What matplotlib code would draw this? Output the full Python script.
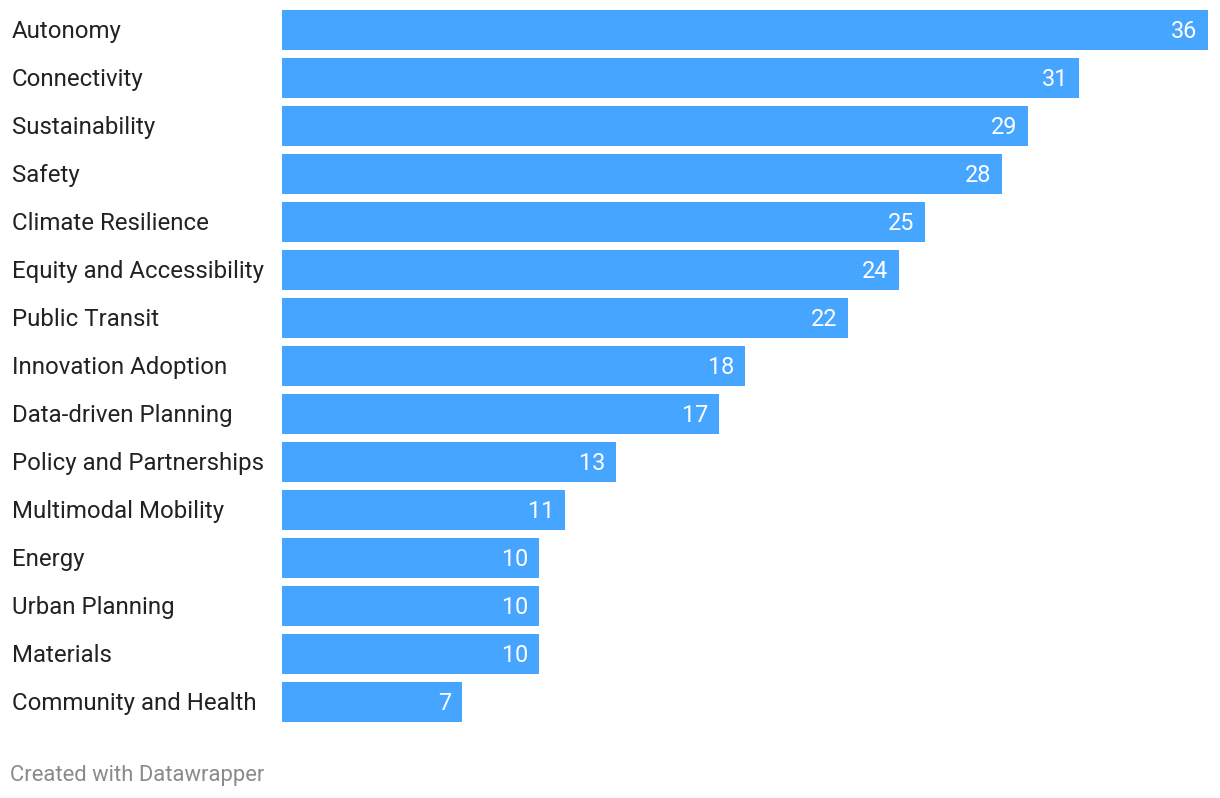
import matplotlib
matplotlib.use("Agg")
import matplotlib.pyplot as plt

# Topics and counts
topics = ["Autonomy", "Connectivity", "Sustainability", "Safety",
          "Climate Resilience", "Equity and Accessibility", "Public Transit",
          "Innovation Adoption", "Data-driven Planning", "Policy and Partnerships",
          "Multimodal Mobility", "Energy", "Urban Planning", "Materials",
          "Community and Health"]
counts = [36, 31, 29, 28, 25, 24, 22, 18, 17, 13, 11, 10, 10, 10, 7]

bar_color = "#46a5ff"
plt.rcParams['font.family'] = ['Roboto', 'DejaVu Sans']

W, H = 1220, 798
fig = plt.figure(figsize=(W / 100, H / 100), dpi=100)
# axes from x=282 to 1208 px, y from 6 to 726 px
ax = fig.add_axes([282 / W, 1 - 726 / H, (1208 - 282) / W, 720 / H])

pos = list(range(len(topics)))
ax.barh(pos, counts, height=40 / 48, color=bar_color)
ax.set_xlim(0, max(counts))
ax.set_ylim(len(topics) - 0.5, -0.5)
ax.axis("off")

for p, name, c in zip(pos, topics, counts):
    ax.annotate(name, xy=(0, p), xycoords="data", xytext=(-270, 1),
                textcoords="offset pixels", ha="left", va="center_baseline",
                fontsize=17.3, color="#222222")
    ax.annotate(str(c), xy=(c, p), xycoords="data", xytext=(-11, 1.5),
                textcoords="offset pixels", ha="right", va="center_baseline",
                fontsize=16.8, color="white")

fig.text(10 / W, 1 - 775 / H, "Created with Datawrapper", ha="left", va="center",
         fontsize=15.8, color="#8a8a8a")

fig.savefig("out.png", dpi=100)
